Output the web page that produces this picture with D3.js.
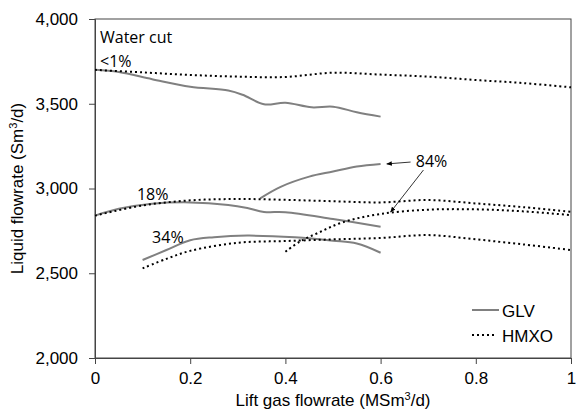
<!DOCTYPE html>
<html>
<head>
<meta charset="utf-8">
<script src="https://cdn.jsdelivr.net/npm/d3@7"></script>
<style>
body { margin: 0; background: #fff; }
.tick text { font-family: "Liberation Sans", Arial, sans-serif; font-size: 17px; fill: #000; }
.lbl { font-family: "Open Sans", "Noto Sans", sans-serif; font-size: 16px; fill: #000; }
.axt { font-family: "Liberation Sans", Arial, sans-serif; font-size: 17px; fill: #000; }
</style>
</head>
<body>
<div id="chart"></div>
<script>
// data: [lift gas, liquid flowrate]
var glv_lt1 = [[0,3700],[0.05,3687],[0.12,3645],[0.2,3600],[0.28,3578],[0.31,3553],[0.355,3497],[0.4,3506],[0.455,3479],[0.5,3483],[0.55,3450],[0.6,3424]]
var hmxo_lt1 = [[0,3700],[0.1,3685],[0.2,3670],[0.3,3660],[0.4,3658],[0.5,3683],[0.6,3672],[0.7,3660],[0.8,3640],[0.9,3622],[1.0,3597]]
var glv_18 = [[0,2840],[0.05,2880],[0.12,2910],[0.2,2918],[0.28,2903],[0.32,2885],[0.355,2862],[0.4,2860],[0.5,2820],[0.6,2775]]
var hmxo_18 = [[0,2840],[0.1,2900],[0.2,2930],[0.3,2938],[0.4,2933],[0.5,2925],[0.6,2918],[0.7,2932],[0.8,2912],[0.9,2890],[1.0,2863]]
var glv_34 = [[0.1,2578],[0.15,2637],[0.2,2695],[0.25,2713],[0.32,2722],[0.42,2712],[0.5,2692],[0.55,2675],[0.6,2621]]
var hmxo_34 = [[0.1,2529],[0.15,2585],[0.2,2632],[0.3,2680],[0.4,2690],[0.5,2700],[0.6,2708],[0.7,2725],[0.8,2700],[0.9,2670],[1.0,2637]]
var glv_84 = [[0.347,2942],[0.39,3010],[0.45,3070],[0.5,3100],[0.55,3130],[0.6,3145]]
var hmxo_84 = [[0.4,2627],[0.43,2686],[0.47,2740],[0.52,2800],[0.6,2850],[0.7,2875],[0.8,2877],[0.9,2865],[1.0,2843]]

var xTicks = [0,0.2,0.4,0.6,0.8,1]
var yTicks = [2000,2500,3000,3500,4000]
var cutLabels = [["<1%",0.0105,3717],["18%",0.088,2932],["34%",0.12,2678],["84%",0.674,3127]]

var width = 576, height = 412
var margin = {left: 95, top: 19, right: 5, bottom: 54}
var w = width - margin.left - margin.right
var h = height - margin.top - margin.bottom

var svg = d3.select("#chart").append("svg")
            .attr("width", width).attr("height", height)
var g = svg.append("g").attr("transform", "translate("+margin.left+","+margin.top+")")

var x = d3.scaleLinear().domain([0,1]).range([0,w])
var y = d3.scaleLinear().domain([2000,4000]).range([h,0])

// frame
g.append("rect").attr("width", w).attr("height", h)
 .attr("fill", "none").attr("stroke", "#444").attr("stroke-width", 1)

var xAxis = d3.axisBottom(x).tickValues(xTicks).tickSize(6).tickPadding(8)
                .tickFormat(d => d===0||d===1 ? d3.format("d")(d) : d3.format(".1f")(d))
var yAxis = d3.axisLeft(y).tickValues(yTicks).tickSize(6).tickPadding(11).tickFormat(d3.format(","))

g.append("g").attr("transform", "translate(0,"+h+")").call(xAxis)
 .call(a => a.select(".domain").attr("stroke", "#444"))
 .call(a => a.selectAll(".tick line").attr("stroke", "#444"))
g.append("g").call(yAxis)
 .call(a => a.select(".domain").attr("stroke", "#444"))
 .call(a => a.selectAll(".tick line").attr("stroke", "#444"))

var line = d3.line().x(d => x(d[0])).y(d => y(d[1])).curve(d3.curveCatmullRom.alpha(0.5))

var glvSeries = [glv_lt1, glv_18, glv_34, glv_84]
var hmxoSeries = [hmxo_lt1, hmxo_18, hmxo_34, hmxo_84]

glvSeries.forEach(s => {
  g.append("path").attr("d", line(s)).attr("fill", "none")
   .attr("stroke", "#808080").attr("stroke-width", 2)
})
hmxoSeries.forEach(s => {
  g.append("path").attr("d", line(s)).attr("fill", "none")
   .attr("stroke", "#000").attr("stroke-width", 2).attr("stroke-dasharray", "2,3")
})

// labels
g.append("text").attr("class", "lbl").attr("x", 5).attr("y", 24).text("Water cut")
cutLabels.forEach(c => {
  g.append("text").attr("class", "lbl").attr("x", x(c[1])).attr("y", y(c[2])).text(c[0])
})

// arrows for 84%
svg.append("defs").append("marker").attr("id", "arr")
   .attr("viewBox", "0 0 10 10").attr("refX", 9).attr("refY", 5)
   .attr("markerWidth", 7).attr("markerHeight", 7).attr("orient", "auto")
   .append("path").attr("d", "M0,1L10,5L0,9z").attr("fill", "#000")
g.append("line").attr("x1", x(0.663)).attr("y1", y(3156)).attr("x2", x(0.613)).attr("y2", y(3145))
 .attr("stroke", "#000").attr("stroke-width", 0.8).attr("marker-end", "url(#arr)")
g.append("line").attr("x1", x(0.69)).attr("y1", y(3109)).attr("x2", x(0.621)).attr("y2", y(2861))
 .attr("stroke", "#000").attr("stroke-width", 0.8).attr("marker-end", "url(#arr)")

// legend
var leg = g.append("g").attr("transform", "translate("+(w-99)+","+(h-48)+")")
leg.append("line").attr("x1", 0).attr("x2", 27).attr("y1", 0).attr("y2", 0)
   .attr("stroke", "#808080").attr("stroke-width", 2)
leg.append("text").attr("class", "axt").attr("x", 30).attr("y", 7).text("GLV")
leg.append("line").attr("x1", 0).attr("x2", 24).attr("y1", 25).attr("y2", 25)
   .attr("stroke", "#000").attr("stroke-width", 2).attr("stroke-dasharray", "2,3")
leg.append("text").attr("class", "axt").attr("x", 30).attr("y", 32).text("HMXO")

// axis titles
var xt = svg.append("text").attr("class", "axt").attr("text-anchor", "middle")
            .attr("x", margin.left + w/2).attr("y", 406)
xt.append("tspan").text("Lift gas flowrate (MSm")
xt.append("tspan").attr("font-size", "11px").attr("dy", -6).text("3")
xt.append("tspan").attr("dy", 6).text("/d)")

var yt = svg.append("text").attr("class", "axt").attr("text-anchor", "middle")
            .attr("transform", "translate(23,"+(margin.top + h/2)+") rotate(-90)")
yt.append("tspan").text("Liquid flowrate (Sm")
yt.append("tspan").attr("font-size", "11px").attr("dy", -6).text("3")
yt.append("tspan").attr("dy", 6).text("/d)")
</script>
</body>
</html>
